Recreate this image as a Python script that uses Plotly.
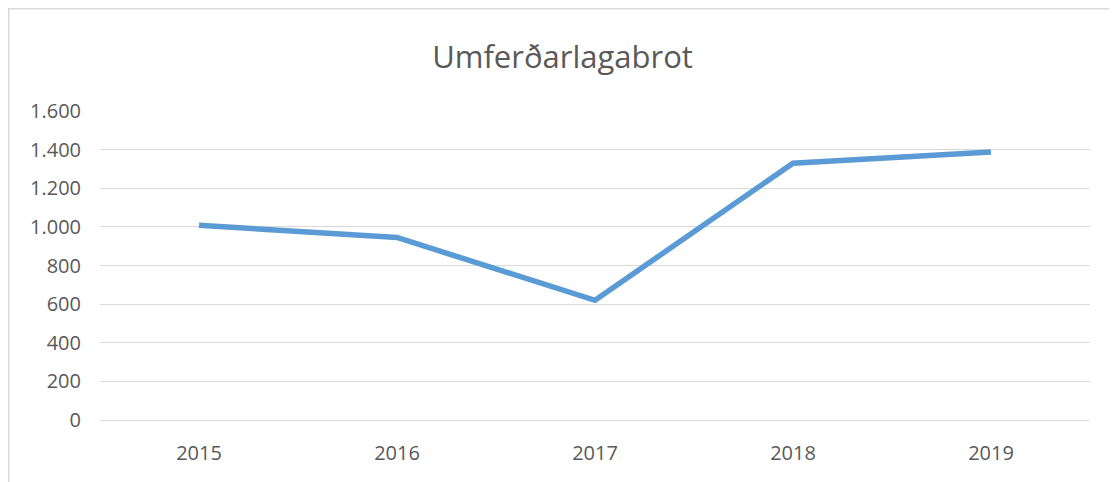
import plotly.graph_objects as go

years = ["2015", "2016", "2017", "2018", "2019"]
values = [1008, 945, 620, 1330, 1388]
y_ticks = [0, 200, 400, 600, 800, 1000, 1200, 1400, 1600]

# the page body has an 8px margin, so the figure is sized to fit the window
W, H = 1109, 474
L, R, T, B = 92, 27, 103, 62
pw, ph = W - L - R, H - T - B

fig = go.Figure(go.Scatter(
    x=years, y=values, mode="lines",
    line=dict(color="#5B9BD5", width=5.5),
    hoverinfo="x+y",
))

fig.update_layout(
    width=W, height=H,
    margin=dict(l=L, r=R, t=T, b=B),
    paper_bgcolor="white", plot_bgcolor="white",
    separators=",.",
    showlegend=False,
    title=dict(text="Umferðarlagabrot", x=0.5, xanchor="center",
               y=1 - 49 / H, yanchor="middle",
               font=dict(family="Open Sans", size=31, color="#595959")),
    font=dict(family="Open Sans", size=20, color="#595959"),
)
fig.update_xaxes(type="category", range=[-0.5, 4.5], showgrid=False,
                 showline=False, ticks="", ticklabelstandoff=19,
                 tickfont=dict(size=20, color="#595959"), fixedrange=True)
fig.update_yaxes(range=[0, 1600], tickvals=y_ticks, tickformat=",d",
                 showgrid=True, gridcolor="#d9d9d9", gridwidth=1.4,
                 zeroline=True, zerolinecolor="#d9d9d9", zerolinewidth=1.4,
                 showline=False, ticks="", ticklabelstandoff=18,
                 tickfont=dict(size=20, color="#595959"), fixedrange=True)

# chart frame (light gray border, partly outside view at right/bottom)
fig.add_shape(type="rect", xref="paper", yref="paper",
              x0=(0.75 - L) / pw, x1=(W + 10 - L) / pw,
              y0=-(H + 10 - (H - B)) / ph, y1=((H - B) - 0.75) / ph,
              line=dict(color="#d9d9d9", width=1.5), layer="below")

fig.write_html("out.html")
